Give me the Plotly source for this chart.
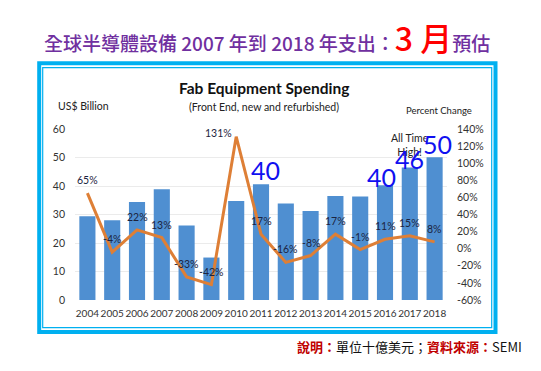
import plotly.graph_objects as go

years = [2004, 2005, 2006, 2007, 2008, 2009, 2010, 2011, 2012, 2013, 2014, 2015, 2016, 2017, 2018]
spending = [29.4, 28.0, 34.4, 38.9, 26.1, 14.9, 34.7, 40.6, 33.9, 31.2, 36.5, 36.3, 40.3, 46.5, 50.1]
pct_change = [65, -4, 22, 13, -33, -42, 131, 17, -16, -8, 17, -1, 11, 15, 8]
pct_ticks = [-60, -40, -20, 0, 20, 40, 60, 80, 100, 120, 140]
big_years = [2011, 2016, 2017, 2018]
big_labels = ["40", "40", "46", "50"]

# the page body has an 8px default margin; work in screen pixels and offset
OFF = 8
W, H = 541 - OFF, 371 - OFF
SL, SR, ST, SB = 75, 447, 129, 300          # plot area in screen pixels
L, R, T, B = SL - OFF, SR - OFF, ST - OFF, SB - OFF
PW, PH = R - L, B - T


def fx(px):
    return (px - OFF - L) / PW


def fy(py):
    return (B - (py - OFF)) / PH


FONT = "Lato, Carlito, Liberation Sans, sans-serif"
CJK = "Noto Sans CJK TC, Noto Sans CJK SC, sans-serif"

fig = go.Figure()
fig.add_trace(go.Bar(x=years, y=spending, marker=dict(color="#4f8fd1", line=dict(width=0)),
                     width=0.65, showlegend=False, hoverinfo="skip"))
fig.add_trace(go.Scatter(x=years, y=pct_change, yaxis="y2", mode="lines",
                         line=dict(color="#de7f36", width=3), showlegend=False, hoverinfo="skip"))

ann = []
# percent labels
for yr, p in zip(years, pct_change):
    xs, ys = (-18, 4) if p > 100 else (0, 13)
    ann.append(dict(x=yr, y=p, xref="x", yref="y2", text=f"{p}%", showarrow=False,
                    xshift=xs, yshift=ys, yanchor="middle",
                    font=dict(family=FONT, size=10.5, color="#1c2440")))

# All Time High
ann.append(dict(x=fx(410), y=fy(145), xref="paper", yref="paper", text="All Time<br>High!",
                showarrow=False, font=dict(family=FONT, size=10.5, color="#222222"),
                xanchor="center", yanchor="middle"))

# big blue numbers
shifts = {2011: (4, 14), 2016: (-4, 8), 2017: (0, 8), 2018: (3, 13)}
for yr, lab in zip(big_years, big_labels):
    v = spending[years.index(yr)]
    xs, ys = shifts[yr]
    ann.append(dict(x=yr, y=v, xref="x", yref="y", text=lab, showarrow=False,
                    xshift=xs, yshift=ys, yanchor="middle",
                    font=dict(family=FONT, size=25, color="#1010f0")))

# chart title texts
ann.append(dict(x=fx(264), y=fy(88), xref="paper", yref="paper", text="<b>Fab Equipment Spending</b>",
                showarrow=False, yanchor="middle", font=dict(family=FONT, size=15.5, color="#111111")))
ann.append(dict(x=fx(264), y=fy(106.5), xref="paper", yref="paper", text="(Front End, new and refurbished)",
                showarrow=False, yanchor="middle", font=dict(family=FONT, size=10.5, color="#222222")))
ann.append(dict(x=fx(56), y=fy(106), xref="paper", yref="paper", text="US$ Billion", xanchor="left",
                showarrow=False, yanchor="middle", font=dict(family=FONT, size=10.5, color="#222222")))
ann.append(dict(x=fx(474), y=fy(111), xref="paper", yref="paper", text="Percent Change", xanchor="right",
                showarrow=False, yanchor="middle", font=dict(family=FONT, size=9.5, color="#222222")))

# page title
ann.append(dict(x=fx(267), y=fy(37.5), xref="paper", yref="paper", xanchor="center", yanchor="middle",
                showarrow=False,
                text=("全球半導體設備 2007 年到 2018 年支出："
                      "<span style='color:#ff0000;font-size:32px'>3 月</span>"
                      "預估"),
                font=dict(family=CJK, size=19, color="#7030a0", weight=500)))

# footer
ann.append(dict(x=fx(524), y=fy(346.5), xref="paper", yref="paper", xanchor="right", yanchor="middle",
                showarrow=False,
                text=("<span style='color:#c00000'><b>說明：</b></span>單位十億美元；"
                      "<span style='color:#c00000'><b>資料來源：</b></span>SEMI"),
                font=dict(family=CJK, size=13, color="#111111")))

shapes = [
    dict(type="rect", xref="paper", yref="paper", x0=fx(39.2), x1=fx(495.5), y0=fy(63.3), y1=fy(332),
         line=dict(color="#00b0f0", width=4), layer="below"),
    dict(type="rect", xref="paper", yref="paper", x0=fx(42.7), x1=fx(491.7), y0=fy(67.7), y1=fy(327.7),
         line=dict(color="#00b0f0", width=1.2), layer="below"),
]

fig.update_layout(
    width=W, height=H,
    margin=dict(l=L, r=W - R, t=T, b=H - B, pad=0),
    paper_bgcolor="white", plot_bgcolor="white",
    bargap=0.35,
    xaxis=dict(range=[2003.5, 2018.5], tickmode="array", tickvals=years, ticktext=[str(y) for y in years],
               tickangle=0, showgrid=False, zeroline=False, showline=False, ticks="",
               tickfont=dict(family=FONT, size=10, color="#333333"), ticklabelstandoff=6),
    yaxis=dict(range=[0, 60], dtick=10, showgrid=True, gridcolor="#ebebeb", gridwidth=1, zeroline=False,
               showline=False, ticks="", tickfont=dict(family=FONT, size=10.5, color="#333333"),
               ticklabelstandoff=9),
    yaxis2=dict(range=[-60, 140], overlaying="y", side="right", tickmode="array", tickvals=pct_ticks,
                ticktext=[f"{t}%" for t in pct_ticks], showgrid=False, zeroline=False, showline=False,
                ticks="", tickfont=dict(family=FONT, size=10.5, color="#333333"), ticklabelstandoff=9),
    annotations=ann, shapes=shapes,
)

fig.write_html("out.html")
